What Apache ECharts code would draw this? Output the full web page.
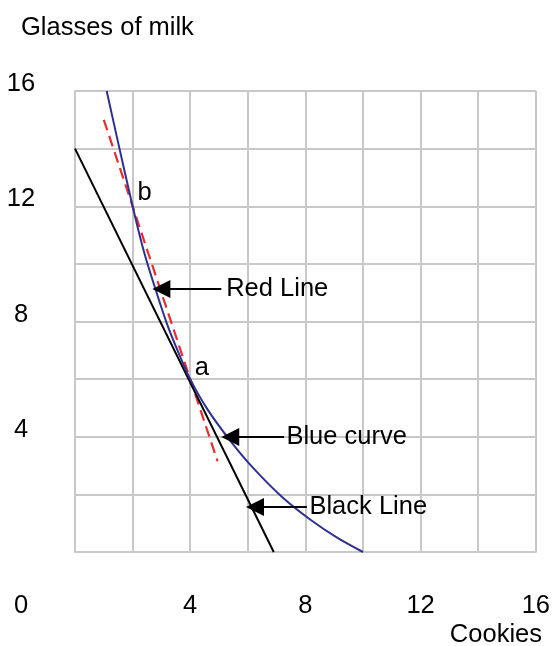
<!DOCTYPE html>
<html>
<head>
<meta charset="utf-8">
<script src="https://cdn.jsdelivr.net/npm/echarts@6/dist/echarts.min.js"></script>
<style>
html,body{margin:0;padding:0;background:#fff;}
#chart{width:553px;height:646px;}
</style>
</head>
<body>
<div id="chart"></div>
<script>
// ---- data ----
const xTickLabels = [4, 8, 12, 16];
const yTickLabels = [4, 8, 12, 16];
const blueCurve = [[1.1,16],[1.5,14.2],[2,12],[2.4,10.4],[2.8,9.1],[3.2,7.9],[3.6,6.9],[4,6],[4.6,4.95],[5.4,3.85],[6.2,2.9],[7.2,1.9],[8.2,1.1],[9.1,0.5],[10,0]];
const blackLine = [[0,14],[6.9,0]];
const redLine = [[1,15],[4.95,3.15]];
const pointLabels = [{name:'a', coord:[4.4,6.4]}, {name:'b', coord:[2.42,12.46]}];
const arrows = [
  {text:'Red Line',   tail:[5.08,9.13], tip:[3.0,9.13],  textAt:[5.25,9.13]},
  {text:'Blue curve', tail:[7.26,3.99], tip:[5.39,3.99], textAt:[7.34,3.99]},
  {text:'Black Line', tail:[8.05,1.56], tip:[6.25,1.56], textAt:[8.14,1.56]}
];

const FONT = 'Liberation Sans';
const FS = 25.5;
const TXT = '#000';
const chart = echarts.init(document.getElementById('chart'), null, {renderer:'canvas'});
const gridColor = '#c8c8c8';
const titleStyle = {fontFamily:FONT, fontSize:FS, fontWeight:'normal', color:TXT};

chart.setOption({
  animation:false,
  backgroundColor:'#fff',
  textStyle:{fontFamily:FONT},
  title:[
    {text:'Glasses of milk', left:21, top:15, padding:0, textStyle:titleStyle},
    {text:'0', left:14, top:593, padding:0, textStyle:titleStyle},
    {text:'Cookies', right:11, top:622, padding:0, textStyle:titleStyle}
  ],
  grid:{left:75, top:91, right:15, bottom:94, containLabel:false},
  xAxis:{
    type:'value', min:0, max:16, interval:2,
    axisLine:{show:true, lineStyle:{color:gridColor, width:2}},
    axisTick:{show:false},
    splitLine:{show:true, lineStyle:{color:gridColor, width:2}},
    axisLabel:{
      show:true, margin:41, fontSize:FS, fontFamily:FONT, color:TXT,
      showMinLabel:true, showMaxLabel:true,
      formatter:v => xTickLabels.indexOf(v) >= 0 ? String(v) : ''
    }
  },
  yAxis:{
    type:'value', min:0, max:16, interval:2,
    axisLine:{show:true, lineStyle:{color:gridColor, width:2}},
    axisTick:{show:false},
    splitLine:{show:true, lineStyle:{color:gridColor, width:2}},
    axisLabel:{
      show:true, margin:54, align:'center', verticalAlign:'bottom', lineHeight:14,
      fontSize:FS, fontFamily:FONT, color:TXT,
      formatter:v => yTickLabels.indexOf(v) >= 0 ? String(v) : ''
    }
  },
  series:[
    {type:'line', data:blackLine, symbol:'none', lineStyle:{color:'#000', width:2}, z:3},
    {type:'line', data:redLine, symbol:'none', lineStyle:{color:'#ee2a2a', width:2.2, type:[11,6]}, z:2},
    {type:'line', data:blueCurve, symbol:'none', smooth:0.3, lineStyle:{color:'#2e3192', width:2}, z:4},
    {type:'lines', coordinateSystem:'cartesian2d', z:5,
      symbol:['none','triangle'], symbolSize:[12,18],
      lineStyle:{color:'#000', width:2, opacity:1},
      data:arrows.map(a => ({coords:[a.tail, a.tip]}))
    },
    {type:'scatter', symbolSize:0, z:6, silent:true,
      itemStyle:{opacity:1},
      label:{show:true, position:'right', distance:0, fontSize:FS, fontFamily:FONT, color:TXT, opacity:1, formatter:p => p.name},
      data:arrows.map(a => ({name:a.text, value:a.textAt}))
    },
    {type:'scatter', symbolSize:0, z:6, silent:true,
      label:{show:true, position:'inside', fontSize:FS, fontFamily:FONT, color:TXT, opacity:1, formatter:p => p.name},
      data:pointLabels.map(p => ({name:p.name, value:p.coord}))
    }
  ]
});
</script>
</body>
</html>
